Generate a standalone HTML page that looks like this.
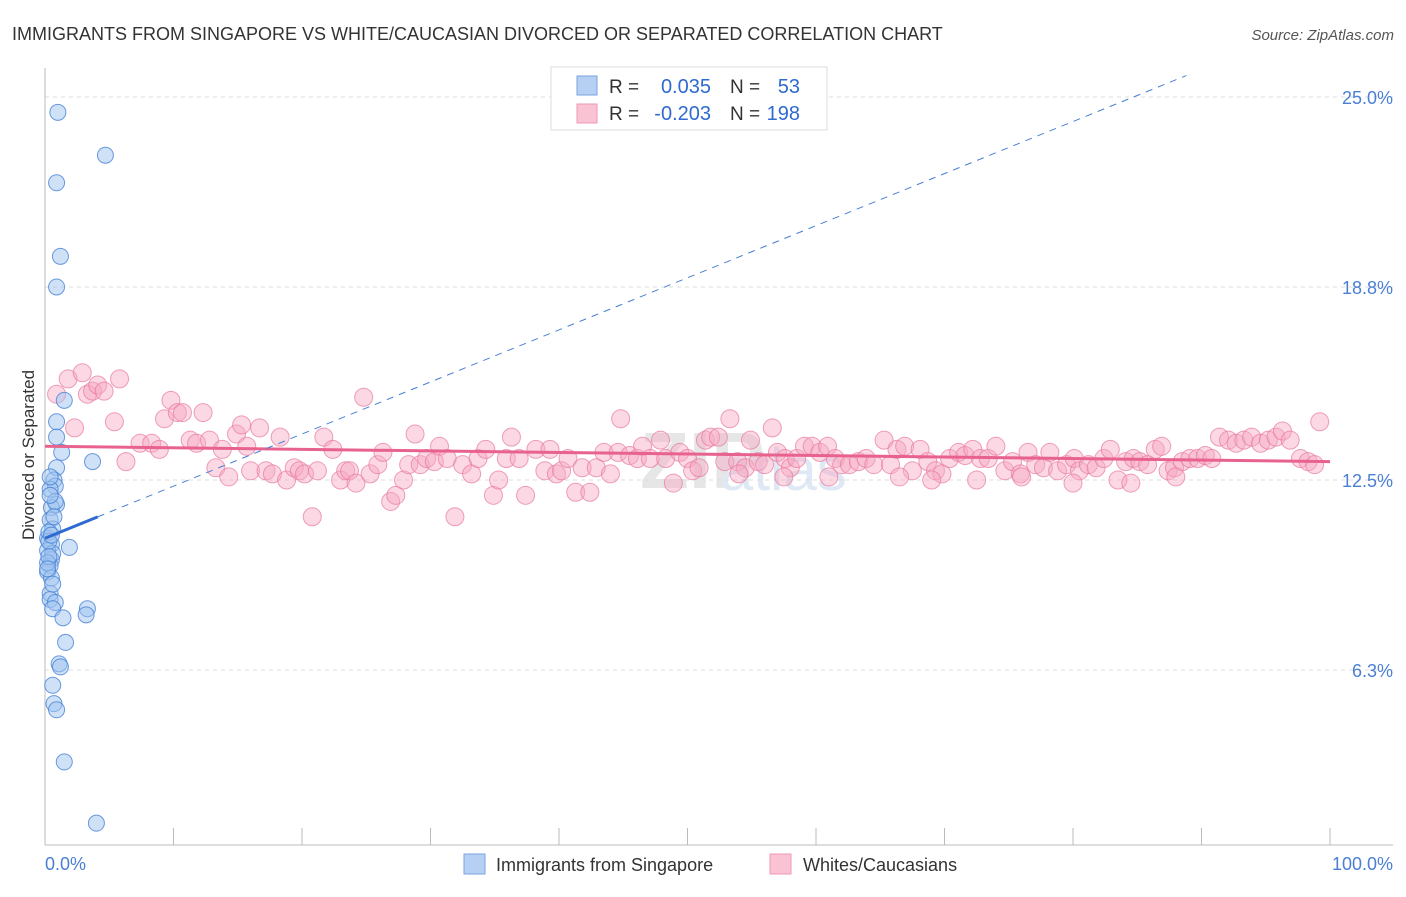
<!DOCTYPE html>
<html><head><meta charset="utf-8"><style>
body{margin:0;background:#fff;font-family:"Liberation Sans",sans-serif;}
svg text{font-family:"Liberation Sans",sans-serif;}
</style></head><body>
<svg id="chart" width="1406" height="892" xmlns="http://www.w3.org/2000/svg">
<text x="12" y="40" font-size="18" fill="#333">IMMIGRANTS FROM SINGAPORE VS WHITE/CAUCASIAN DIVORCED OR SEPARATED CORRELATION CHART</text>
<text x="1394" y="40" font-size="15" fill="#555" text-anchor="end" font-style="italic">Source: ZipAtlas.com</text>
<text x="640" y="488" font-size="80" fill="#e6e6e6" font-family="Liberation Serif" font-weight="bold">ZIP</text>
<text x="720" y="490" font-size="60" fill="#dfe8f5">atlas</text>
<g id="grid"></g>
<g id="axes"></g>
<g id="pink"></g>
<g id="blue"></g>
<g id="lines"></g>
<text x="34" y="455" font-size="17" fill="#333" text-anchor="middle" transform="rotate(-90 34 455)">Divorced or Separated</text>
<text x="45" y="870" font-size="18" fill="#4a7fd4">0.0%</text>
<text x="1393" y="870" font-size="18" fill="#4a7fd4" text-anchor="end">100.0%</text>
<g>
<rect x="551" y="67" width="276" height="63" fill="#fff" stroke="#ddd"/>
<rect x="577" y="76" width="20" height="19" fill="#b6d0f4" stroke="#7aa3e0"/>
<rect x="577" y="104" width="20" height="19" fill="#f9c3d3" stroke="#ee9ab4"/>
<text x="609" y="93" font-size="19" fill="#333">R =</text>
<text x="711" y="93" font-size="20" fill="#2f6ad0" text-anchor="end">0.035</text>
<text x="730" y="93" font-size="19" fill="#333">N =</text>
<text x="800" y="93" font-size="20" fill="#2f6ad0" text-anchor="end">53</text>
<text x="609" y="120" font-size="19" fill="#333">R =</text>
<text x="711" y="120" font-size="20" fill="#2f6ad0" text-anchor="end">-0.203</text>
<text x="730" y="120" font-size="19" fill="#333">N =</text>
<text x="800" y="120" font-size="20" fill="#2f6ad0" text-anchor="end">198</text>
</g>
<g>
<rect x="464" y="854" width="21" height="20" fill="#b6d0f4" stroke="#7aa3e0"/>
<text x="496" y="871" font-size="18" fill="#333">Immigrants from Singapore</text>
<rect x="770" y="854" width="21" height="20" fill="#f9c3d3" stroke="#ee9ab4"/>
<text x="803" y="871" font-size="18" fill="#333">Whites/Caucasians</text>
</g>
</svg>
<script>
const yTicks=[25.0,18.8,12.5,6.3];
const yTickLabels=["25.0%","18.8%","12.5%","6.3%"];
const blueX=[1.0,4.7,0.9,1.2,0.9,1.5,0.9,0.9,1.3,0.9,3.7,0.7,0.8,0.4,0.9,0.5,0.4,0.6,0.2,0.5,1.9,0.2,0.5,0.4,0.2,0.4,0.4,0.8,0.6,3.3,3.2,1.4,1.6,1.1,1.2,0.6,0.7,0.9,1.5,4.0,0.3,0.6,0.2,0.8,0.4,0.3,0.5,0.7,0.3,0.2,0.6,0.4,0.5];
const blueY=[24.5,23.1,22.2,19.8,18.8,15.1,14.4,13.9,13.4,12.9,13.1,12.5,12.3,12.2,11.7,11.6,11.2,10.9,10.6,10.4,10.3,10.2,9.9,9.7,9.5,8.8,8.6,8.5,8.3,8.3,8.1,8.0,7.2,6.5,6.4,5.8,5.2,5.0,3.3,1.3,10.8,10.1,9.8,11.8,12.6,10.5,9.3,11.3,10.0,9.6,9.1,12.0,10.7];
const pinkX=[0.9,1.8,2.3,2.9,3.3,3.7,4.1,4.6,5.4,5.8,6.3,7.4,8.3,8.9,9.3,9.8,10.3,10.7,11.3,11.8,12.3,12.8,13.3,13.8,14.3,14.9,15.3,15.7,16.0,16.7,17.2,17.7,18.3,18.8,19.4,19.8,20.2,20.8,21.2,21.7,22.4,23.0,23.4,23.7,24.2,24.8,25.3,25.9,26.3,26.9,27.3,27.9,28.3,28.8,29.2,29.7,30.3,30.7,31.3,31.9,32.5,33.2,33.7,34.3,34.9,35.3,35.9,36.3,36.9,37.4,38.2,38.9,39.3,39.8,40.2,40.7,41.3,41.8,42.4,42.9,43.5,44.0,44.6,44.8,45.5,46.1,46.5,47.1,47.9,48.3,48.9,49.4,50.0,50.4,50.9,51.4,51.8,52.4,52.9,53.3,53.9,54.5,54.9,55.5,56.0,56.6,57.0,57.6,58.0,58.5,59.1,59.7,60.3,60.9,61.5,62.0,62.6,63.3,63.9,64.5,65.3,65.8,66.3,66.9,67.5,68.1,68.7,69.3,69.8,70.4,71.1,71.6,72.2,72.8,73.4,74.0,74.7,75.3,75.9,76.5,77.1,77.7,78.2,78.8,79.5,80.1,80.5,81.2,81.8,82.4,82.9,83.5,84.1,84.7,85.2,85.8,86.4,86.9,87.4,87.9,88.5,89.1,89.7,90.3,90.8,91.4,92.1,92.7,93.3,93.9,94.6,95.2,95.8,96.3,96.9,97.7,98.3,98.8,99.2,61.0,69.0,76.0,80.0,54.0,66.5,72.5,84.5,88.0,57.5];
const pinkY=[15.3,15.8,14.2,16.0,15.3,15.4,15.6,15.4,14.4,15.8,13.1,13.7,13.7,13.5,14.5,15.1,14.7,14.7,13.8,13.7,14.7,13.8,12.9,13.5,12.6,14.0,14.3,13.6,12.8,14.2,12.8,12.7,13.9,12.5,12.9,12.8,12.7,11.3,12.8,13.9,13.5,12.5,12.8,12.8,12.4,15.2,12.7,13.0,13.4,11.8,12.0,12.5,13.0,14.0,13.0,13.2,13.1,13.6,13.2,11.3,13.0,12.7,13.2,13.5,12.0,12.5,13.2,13.9,13.2,12.0,13.5,12.8,13.5,12.7,12.8,13.2,12.1,12.9,12.1,12.9,13.4,12.7,13.4,14.5,13.3,13.2,13.6,13.2,13.8,13.2,12.4,13.4,13.2,12.8,12.9,13.8,13.9,13.9,13.1,14.5,13.1,12.9,13.8,13.1,13.0,14.2,13.4,13.2,12.9,13.2,13.6,13.6,13.4,13.6,13.2,13.0,13.0,13.1,13.2,13.0,13.8,13.0,13.5,13.6,12.8,13.5,13.1,12.8,12.7,13.2,13.4,13.3,13.5,13.2,13.2,13.6,12.8,13.1,12.7,13.4,13.0,12.9,13.4,12.8,13.0,13.2,12.8,13.0,12.9,13.2,13.5,12.5,13.1,13.2,13.1,13.0,13.5,13.6,12.8,12.9,13.1,13.2,13.2,13.3,13.2,13.9,13.8,13.7,13.8,13.9,13.7,13.8,13.9,14.1,13.8,13.2,13.1,13.0,14.4,12.6,12.5,12.6,12.4,12.7,12.6,12.5,12.4,12.6,12.6];
const pinkTrend=[13.6,13.1];
const blueTrend=[10.6,0.17];
const X=v=>45+v*12.85;
const Y=v=>480-(v-12.5)*30.64;
const NS='http://www.w3.org/2000/svg';
function mk(tag,attrs,parent){const e=document.createElementNS(NS,tag);for(const k in attrs)e.setAttribute(k,attrs[k]);parent.appendChild(e);return e;}
const grid=document.getElementById('grid');
yTicks.forEach((t,i)=>{
 const l=mk('line',{x1:45,x2:1393,y1:Y(t),y2:Y(t),stroke:'#ddd','stroke-dasharray':'4,4'},grid);
 
 
 const tx=mk('text',{x:1393,y:Y(t)+7,'font-size':18,fill:'#4a7fd4','text-anchor':'end'},grid);
 tx.textContent=yTickLabels[i];
 
 
});
const axes=document.getElementById('axes');
const ya=mk('line',{x1:45,x2:45,y1:68,y2:845,stroke:'#bbb'},axes);


const xa=mk('line',{x1:45,x2:1393,y1:845,y2:845,stroke:'#bbb'},axes);


for(let i=1;i<=10;i++){
 const t=mk('line',{x1:X(i*10),x2:X(i*10),y1:828,y2:845,stroke:'#bbb'},axes);
 
 
}
const pg=document.getElementById('pink');
pinkX.forEach((x,i)=>{
 const c=mk('circle',{cx:X(x),cy:Y(pinkY[i]),r:9,fill:'rgba(246,168,194,0.45)',stroke:'rgba(232,120,158,0.7)','stroke-width':1},pg);
 
 
});
const bg=document.getElementById('blue');
blueX.forEach((x,i)=>{
 const c=mk('circle',{cx:X(x),cy:Y(blueY[i]),r:8,fill:'rgba(160,196,240,0.5)',stroke:'rgba(70,130,215,0.8)','stroke-width':1},bg);
 
 
});
const lg=document.getElementById('lines');
const pl=mk('line',{x1:X(0),y1:Y(pinkTrend[0]),x2:X(100),y2:Y(pinkTrend[1]),stroke:'#e8628e','stroke-width':3},lg);


const xEnd=(25.7-blueTrend[0])/blueTrend[1];
const bd=mk('line',{x1:X(4.1),y1:Y(blueTrend[0]+blueTrend[1]*4.1),x2:X(xEnd),y2:Y(25.7),stroke:'#4a7fd4','stroke-width':1,'stroke-dasharray':'7,6'},lg);


const bs=mk('line',{x1:X(0),y1:Y(blueTrend[0]),x2:X(4.1),y2:Y(blueTrend[0]+blueTrend[1]*4.1),stroke:'#2f6ad0','stroke-width':3},lg);


</script>
</body></html>
